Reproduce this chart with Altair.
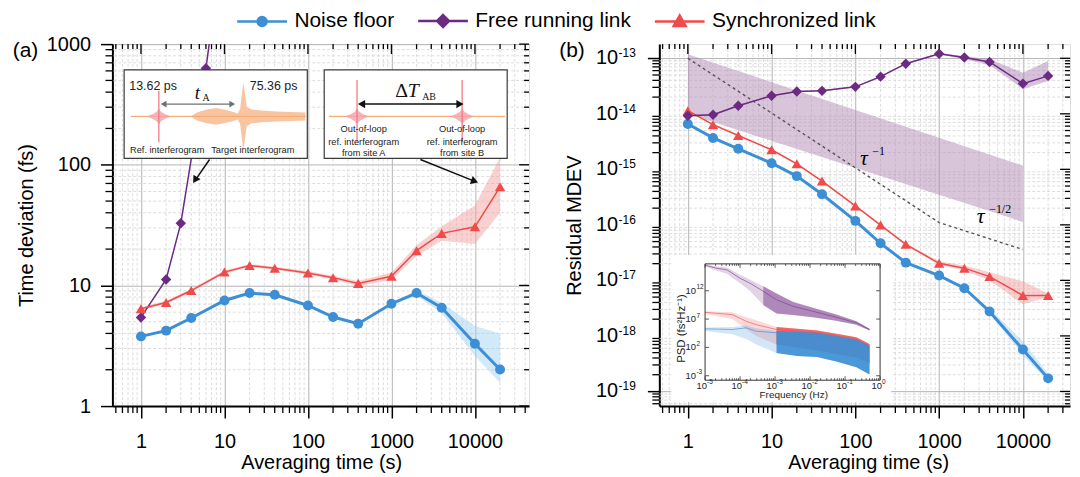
import altair as alt
import pandas as pd

FONT = "Liberation Sans"
SERIF = "Liberation Serif"
BLACK = "#000000"
GRID_MAJ = "#b4b4b4"
GRID_MIN = "#d4d4d4"

SERIES = ["Noise floor", "Free running link", "Synchronized link"]
COLORS = ["#3c8fd5", "#6c2a83", "#f04b4b"]
BANDS = ["#9ccff3", "#a57bb0", "#f39a9a"]

TAU = [1, 2, 4, 10, 20, 40, 100, 200, 400, 1000, 2000, 4000, 10000, 20000]
X_MAJOR = [1, 10, 100, 1000, 10000]
YA_MAJOR = [1, 10, 100, 1000]
YB_MAJOR = [1e-19, 1e-18, 1e-17, 1e-16, 1e-15, 1e-14, 1e-13]
YB_EXP = ["-19", "-18", "-17", "-16", "-15", "-14", "-13"]

# ---------------- panel (a): time deviation (fs) ----------------
A_NOISE = [3.78, 4.22, 5.37, 7.5, 8.64, 8.36, 6.82, 5.47, 4.82, 7.05, 8.64, 6.53, 3.28, 2.01]
A_NOISE_LO = [3.7, 4.13, 5.26, 7.35, 8.47, 8.19, 6.68, 5.36, 4.72, 6.9, 8.2, 5.9, 2.6, 1.56]
A_NOISE_HI = [3.86, 4.31, 5.48, 7.65, 8.81, 8.53, 6.96, 5.58, 4.92, 7.2, 9.1, 7.2, 4.6, 4.0]
A_SYNC = [6.41, 7.22, 9.07, 12.9, 14.6, 13.9, 12.7, 11.6, 10.4, 11.9, 19.4, 27.0, 30.6, 65.6]
A_SYNC_LO = [6.2, 7.0, 8.8, 12.5, 14.2, 13.5, 12.3, 11.2, 9.9, 11.1, 17.5, 23.5, 22.0, 40.0]
A_SYNC_HI = [6.6, 7.45, 9.35, 13.3, 15.0, 14.3, 13.1, 12.0, 10.9, 12.8, 21.5, 31.0, 46.0, 115.0]
A_FREE_TAU = [1, 2, 3, 6, 10]
A_FREE = [5.43, 11.2, 32.7, 630, 8800]

# ---------------- panel (b): residual MDEV ----------------
B_NOISE = [6.56e-15, 3.68e-15, 2.34e-15, 1.29e-15, 7.55e-16, 3.55e-16, 1.18e-16, 4.65e-17, 2.09e-17, 1.22e-17, 7.24e-18, 2.76e-18, 5.69e-19, 1.72e-19]
B_NOISE_LO = [6.36e-15, 3.57e-15, 2.27e-15, 1.25e-15, 7.32e-16, 3.44e-16, 1.14e-16, 4.5e-17, 2.02e-17, 1.18e-17, 6.9e-18, 2.5e-18, 4.5e-19, 1.5e-19]
B_NOISE_HI = [6.76e-15, 3.79e-15, 2.41e-15, 1.33e-15, 7.78e-16, 3.66e-16, 1.22e-16, 4.8e-17, 2.16e-17, 1.26e-17, 7.7e-18, 3.1e-18, 8.0e-19, 2.1e-19]
B_SYNC = [1.14e-14, 6.38e-15, 4.06e-15, 2.25e-15, 1.26e-15, 6.15e-16, 2.19e-16, 9.9e-17, 4.46e-17, 2.03e-17, 1.66e-17, 1.17e-17, 5.35e-18, 5.35e-18]
B_SYNC_LO = [1.1e-14, 6.19e-15, 3.94e-15, 2.18e-15, 1.22e-15, 5.97e-16, 2.12e-16, 9.6e-17, 4.3e-17, 1.9e-17, 1.5e-17, 1.0e-17, 3.7e-18, 5.0e-18]
B_SYNC_HI = [1.18e-14, 6.57e-15, 4.18e-15, 2.32e-15, 1.3e-15, 6.33e-16, 2.26e-16, 1.02e-16, 4.6e-17, 2.2e-17, 1.85e-17, 1.4e-17, 9.6e-18, 5.8e-18]
B_FREE = [9.25e-15, 9.64e-15, 1.4e-14, 2.11e-14, 2.52e-14, 2.59e-14, 3.06e-14, 4.67e-14, 8.0e-14, 1.21e-13, 1.03e-13, 8.58e-14, 3.5e-14, 4.82e-14]
B_FREE_LO = [8.97e-15, 9.35e-15, 1.36e-14, 2.05e-14, 2.44e-14, 2.51e-14, 2.97e-14, 4.53e-14, 7.76e-14, 1.17e-13, 9.6e-14, 7.6e-14, 2.8e-14, 3.9e-14]
B_FREE_HI = [9.53e-15, 9.93e-15, 1.44e-14, 2.17e-14, 2.6e-14, 2.67e-14, 3.15e-14, 4.81e-14, 8.24e-14, 1.25e-13, 1.1e-13, 9.6e-14, 5.5e-14, 8.9e-14]
ENV_TAU = [1, 10000]
ENV_LO = [1.0e-14, 1.13e-16]
ENV_HI = [1.18e-13, 1.17e-15]
GUIDE_TAU = [1, 1000, 10000]
GUIDE = [1e-13, 1.1e-16, 3.6e-17]

# PSD inset (log10 of fs^2/Hz)
PSD_F_FREE = [1e-5, 2e-5, 4.2e-5, 1e-4, 1.9e-4, 4.6e-4, 1.1e-3, 3.3e-3, 1.2e-2, 5.6e-2, 2.1e-1, 5e-1]
PSD_FREE = [16.5, 16.0, 15.7, 14.2, 13.35, 11.9, 10.4, 9.25, 8.37, 7.32, 6.33, 5.16]
PSD_FREE_LO = [16.3, 15.6, 15.0, 13.3, 12.0, 9.5, 8.0, 7.7, 7.3, 6.7, 6.0, 5.0]
PSD_FREE_HI = [16.7, 16.3, 16.1, 14.8, 14.0, 12.8, 11.5, 10.0, 9.0, 7.8, 6.6, 5.3]
PSD_F = [1e-5, 6e-5, 1.5e-4, 2.9e-4, 1.1e-3, 4.3e-3, 1.6e-2, 5.6e-2, 2.1e-1, 5e-1]
PSD_SYNC = [8.19, 7.79, 6.6, 6.0, 5.16, 4.86, 4.58, 3.98, 3.4, 2.23]
PSD_SYNC_LO = [7.9, 7.0, 5.2, 4.0, 2.5, 2.0, 1.5, 0.8, 0.2, -0.8]
PSD_SYNC_HI = [8.4, 8.2, 7.3, 6.8, 5.6, 5.3, 5.0, 4.4, 3.8, 2.6]
PSD_NOISE = [5.28, 5.16, 5.45, 4.86, 4.58, 4.3, 3.98, 3.4, 2.9, 1.65]
PSD_NOISE_LO = [4.9, 4.3, 3.5, 2.5, 1.0, 0.5, 0.3, -0.5, -1.5, -2.8]
PSD_NOISE_HI = [5.5, 5.6, 5.9, 5.4, 4.9, 4.7, 4.6, 4.0, 3.4, 2.3]
PSD_X_MAJOR = [1e-5, 1e-4, 1e-3, 1e-2, 1e-1, 1.0]
PSD_X_EXP = ["-5", "-4", "-3", "-2", "-1", "0"]
PSD_Y_MAJOR = [1e-3, 1e2, 1e7, 1e12]
PSD_Y_EXP = ["-3", "2", "7", "12"]

# ---------------- layout ----------------
W_A, W_B, H = 419, 413, 364
XDOM_A = [0.455, 44500]
XDOM_B = [0.457, 36500]
YDOM_A = [1, 1000]
YDOM_B = [5.45e-20, 1.8e-13]


def minor_ticks(lo, hi):
    out = []
    for e in range(-25, 8):
        for m in range(2, 10):
            v = float(f"{m}e{e}")
            if lo <= v <= hi:
                out.append(v)
    return out


def x_axis():
    return alt.Axis(values=X_MAJOR, format="d", title="Averaging time (s)", grid=True,
                    gridColor=GRID_MAJ, gridWidth=1, tickSize=12, tickWidth=1.5, tickColor=BLACK,
                    domainColor=BLACK, domainWidth=2, labelFont=FONT, labelFontSize=20,
                    labelColor=BLACK, labelPadding=14, labelFlush=False, labelOverlap=False,
                    titleFont=FONT, titleFontSize=20, titleFontWeight="normal", titleColor=BLACK,
                    titleX=210, titleY=57, titleBaseline="middle", titleAlign="center")


def y_axis(values, title, labels, tx):
    return alt.Axis(values=values, format="d", title=title, grid=True, labels=labels,
                    gridColor=GRID_MAJ, gridWidth=1, tickSize=12, tickWidth=1.5, tickColor=BLACK,
                    domainColor=BLACK, domainWidth=2, labelFont=FONT, labelFontSize=20,
                    labelColor=BLACK, labelPadding=10, labelFlush=False, labelOverlap=False,
                    titleFont=FONT, titleFontSize=20, titleFontWeight="normal", titleColor=BLACK,
                    titleX=tx, titleY=H / 2, titleAngle=270, titleBaseline="middle",
                    titleAlign="center")


def make_enc(xdom, ydom, yvals, ytitle, ylabels, tx):
    def X(f):
        return alt.X(f, type="quantitative",
                     scale=alt.Scale(type="log", domain=xdom, nice=False), axis=x_axis())

    def Y(f):
        return alt.Y(f, type="quantitative",
                     scale=alt.Scale(type="log", domain=ydom, nice=False),
                     axis=y_axis(yvals, ytitle, ylabels, tx))
    return X, Y


def frame_layers(X, Y, W, xdom, ydom, ymajor):
    xm = pd.DataFrame({"v": minor_ticks(*xdom)})
    ym = pd.DataFrame({"v": minor_ticks(*ydom)})
    xM = pd.DataFrame({"v": X_MAJOR})
    yM = pd.DataFrame({"v": ymajor})
    tk = dict(color=BLACK, strokeWidth=1.3)
    return [
        alt.Chart(xm).mark_rule(color=GRID_MIN, strokeDash=[3, 2], strokeWidth=0.8).encode(x=X("v")),
        alt.Chart(ym).mark_rule(color=GRID_MIN, strokeDash=[3, 2], strokeWidth=0.8).encode(y=Y("v")),
        alt.Chart(xm).mark_rule(**tk).encode(x=X("v"), y=alt.value(H), y2=alt.value(H + 7)),
        alt.Chart(xm).mark_rule(**tk).encode(x=X("v"), y=alt.value(0), y2=alt.value(5)),
        alt.Chart(xM).mark_rule(**tk).encode(x=X("v"), y=alt.value(0), y2=alt.value(10)),
        alt.Chart(ym).mark_rule(**tk).encode(y=Y("v"), x=alt.value(0), x2=alt.value(-7)),
        alt.Chart(ym).mark_rule(**tk).encode(y=Y("v"), x=alt.value(W), x2=alt.value(W - 5)),
        alt.Chart(yM).mark_rule(**tk).encode(y=Y("v"), x=alt.value(W), x2=alt.value(W - 10)),
    ]


def band(X, Y, df, color, opacity):
    return alt.Chart(df).mark_area(color=color, opacity=opacity, clip=True).encode(
        x=X("tau"), y=Y("lo"), y2="hi")


def series(X, Y, df, color, shape, lw, size):
    return [
        alt.Chart(df).mark_line(color=color, strokeWidth=lw, clip=True).encode(x=X("tau"), y=Y("v")),
        alt.Chart(df).mark_point(shape=shape, filled=True, size=size, color=color, opacity=1,
                                 clip=True).encode(x=X("tau"), y=Y("v")),
    ]


def label(text, x, y, size=20, **kw):
    return alt.Chart(pd.DataFrame({"t": [text]})).mark_text(
        font=kw.pop("font", FONT), fontSize=size, color=kw.pop("color", BLACK),
        align=kw.pop("align", "left"), baseline="middle", **kw).encode(
        x=alt.value(x), y=alt.value(y), text="t:N")


# ====================== PANEL (a) ======================
XA, YA = make_enc(XDOM_A, YDOM_A, YA_MAJOR, "Time deviation (fs)", True, -86.4)
dfa_n = pd.DataFrame({"tau": TAU, "v": A_NOISE, "lo": A_NOISE_LO, "hi": A_NOISE_HI})
dfa_s = pd.DataFrame({"tau": TAU, "v": A_SYNC, "lo": A_SYNC_LO, "hi": A_SYNC_HI})
dfa_f = pd.DataFrame({"tau": A_FREE_TAU, "v": A_FREE})

PATHS = [
    "M-1,0H4M1.95,0A0.45,0.45,0,1,1,1.05,0A0.45,0.45,0,1,1,1.95,0Z",
    "M-1,0H4M1.5,-0.6L2.1,0L1.5,0.6L0.9,0Z",
    "M-1,0H4M1.5,-0.6L2.1,0.45L0.9,0.45Z",
]
LEG = alt.Legend(title=None, orient="none", legendX=124, legendY=-35, direction="horizontal",
                 columns=3, labelFont=FONT, labelFontSize=21, labelColor=BLACK, labelOffset=36,
                 columnPadding=18, symbolSize=400, symbolStrokeWidth=2.5, symbolOpacity=1,
                 labelLimit=400)
leg_df = pd.DataFrame({"series": SERIES, "tau": [1e-6] * 3, "v": [2, 2, 2]})
legend_layer = alt.Chart(leg_df).mark_point(filled=True, opacity=1, clip=True).encode(
    x=XA("tau"), y=YA("v"),
    color=alt.Color("series:N", scale=alt.Scale(domain=SERIES, range=COLORS), legend=LEG),
    stroke=alt.Stroke("series:N", scale=alt.Scale(domain=SERIES, range=COLORS), legend=LEG),
    shape=alt.Shape("series:N", scale=alt.Scale(domain=SERIES, range=PATHS), legend=LEG),
)

main_a = alt.layer(
    *frame_layers(XA, YA, W_A, XDOM_A, YDOM_A, YA_MAJOR),
    band(XA, YA, dfa_n, BANDS[0], 0.45),
    band(XA, YA, dfa_s, BANDS[2], 0.45),
    *series(XA, YA, dfa_f, COLORS[1], "diamond", 1.5, 110),
    *series(XA, YA, dfa_n, COLORS[0], "circle", 3, 100),
    *series(XA, YA, dfa_s, COLORS[2], "triangle-up", 1.5, 110),
    legend_layer,
    label("(a)", -100.3, 7, 21),
)

# ---- inset illustrations of panel (a), in a local frame of the plot ----
ORANGE = "#f6ae78"
ORANGE_FILL = "#f9c29c"
PINK = "#f07a86"
PINK_FILL = "#f4a3aa"


def ovx(f):
    return alt.X(f, type="quantitative",
                 scale=alt.Scale(domain=[0, W_A], range=[0, W_A], nice=False, zero=False), axis=None)


def ovy(f):
    return alt.Y(f, type="quantitative",
                 scale=alt.Scale(domain=[0, H], range=[0, H], nice=False, zero=False), axis=None)


BOX = pd.DataFrame({"x0": [11.8, 213.0], "x1": [196.0, 397.0], "y0": [26, 26], "y1": [115, 115]})
BASE = pd.DataFrame({"x0": [18.4, 217.7], "x1": [194.4, 395.0], "y": [72.7, 72.7]})
SPIKE = pd.DataFrame({"x": [46.7, 246.0, 351.7], "y0": [47, 36, 36], "y1": [98.7, 98.7, 98.7]})
BLOB_DX = [-11, -6, -2, 0, 2, 6, 11]
BLOB_HH = [0.5, 2.5, 5, 8, 5, 2.5, 0.5]
blob_rows = []
for gi, sx in enumerate(SPIKE["x"]):
    for dx, hh in zip(BLOB_DX, BLOB_HH):
        blob_rows.append({"g": gi, "x": sx + dx, "ya": 72.7 - hh, "yb": 72.7 + hh})
BLOB = pd.DataFrame(blob_rows)
TGT_X = [79.4, 85, 95, 104, 112, 120, 126, 128.5, 130.5, 131.7, 133, 135, 140, 150, 165, 180, 194]
TGT_HH = [0.5, 4, 7, 8.5, 7, 5, 3, 8, 25, 34, 25, 10, 7, 6, 5, 4.5, 4]
TGT = pd.DataFrame({"x": TGT_X, "ya": [72.7 - h for h in TGT_HH], "yb": [72.7 + h for h in TGT_HH]})
ARR_GRAY = pd.DataFrame({"x0": [52], "x1": [120], "y0": [60.3], "y1": [60.3]})
ARR_BLACK = pd.DataFrame({"x0": [251, 97.7, 309.7], "x1": [349, 83.5, 364.5],
                          "y0": [60.3, 116, 116], "y1": [60.3, 136.5, 138]})
HEAD_GRAY = pd.DataFrame({"x": [51.5, 120.5], "y": [60.3, 60.3], "a": [270, 90]})
HEAD_BLACK = pd.DataFrame({"x": [250.5, 349.5, 83.1, 364.3], "y": [60.3, 60.3, 136.7, 137.9],
                           "a": [270, 90, 213, 110]})
TXT_PS_L = pd.DataFrame({"x": [17], "y": [42], "t": ["13.62 ps"]})
TXT_PS_R = pd.DataFrame({"x": [186], "y": [42], "t": ["75.36 ps"]})
TXT_SMALL = pd.DataFrame({"x": [17.7, 99.4], "y": [106.3, 106.3],
                          "t": ["Ref. interferogram", "Target interferogram"]})
TXT_SITE = pd.DataFrame({
    "x": [252.7] * 3 + [351.7] * 3,
    "y": [85.3, 98, 109.3] * 2,
    "t": ["Out-of-loop", "ref. interferogram", "from site A",
          "Out-of-loop", "ref. interferogram", "from site B"]})


def ov_text(df, **kw):
    return alt.Chart(df).mark_text(baseline="middle", **kw).encode(x=ovx("x"), y=ovy("y"), text="t:N")


def one(x, y, t):
    return pd.DataFrame({"x": [x], "y": [y], "t": [t]})


overlay_a = alt.layer(
    alt.Chart(BOX).mark_rect(fill="white", stroke="#3a3a3a", strokeWidth=1.2).encode(
        x=ovx("x0"), x2="x1", y=ovy("y0"), y2="y1"),
    alt.Chart(TGT).mark_area(color=ORANGE_FILL, opacity=0.95).encode(x=ovx("x"), y=ovy("ya"), y2="yb"),
    alt.Chart(BASE).mark_rule(color=ORANGE, strokeWidth=1.4).encode(x=ovx("x0"), x2="x1", y=ovy("y")),
    alt.Chart(BLOB).mark_area(color=PINK_FILL, opacity=0.8).encode(
        x=ovx("x"), y=ovy("ya"), y2="yb", detail="g:N"),
    alt.Chart(SPIKE).mark_rule(color=PINK, strokeWidth=1.3).encode(x=ovx("x"), y=ovy("y0"), y2="y1"),
    alt.Chart(ARR_GRAY).mark_rule(color="#707070", strokeWidth=1.3).encode(
        x=ovx("x0"), x2="x1", y=ovy("y0"), y2="y1"),
    alt.Chart(ARR_BLACK).mark_rule(color="#111111", strokeWidth=1.5).encode(
        x=ovx("x0"), x2="x1", y=ovy("y0"), y2="y1"),
    alt.Chart(HEAD_GRAY).mark_point(shape="triangle-up", filled=True, opacity=1, size=45,
                                    color="#707070").encode(
        x=ovx("x"), y=ovy("y"), angle=alt.Angle("a:Q", scale=None)),
    alt.Chart(HEAD_BLACK).mark_point(shape="triangle-up", filled=True, opacity=1, size=70,
                                     color="#111111").encode(
        x=ovx("x"), y=ovy("y"), angle=alt.Angle("a:Q", scale=None)),
    ov_text(TXT_PS_L, font=FONT, fontSize=12.5, color="#222222", align="left"),
    ov_text(TXT_PS_R, font=FONT, fontSize=12.5, color="#222222", align="right"),
    ov_text(TXT_SMALL, font=FONT, fontSize=9.3, color="#222222", align="left"),
    ov_text(TXT_SITE, font=FONT, fontSize=9.3, color="#222222", align="center"),
    ov_text(one(82.7, 49.5, "t"), font=SERIF, fontStyle="italic", fontSize=19, color="#111111",
            align="left"),
    ov_text(one(90.5, 54.5, "A"), font=SERIF, fontSize=10, color="#111111", align="left"),
    ov_text(one(284.4, 47, "Δ"), font=SERIF, fontSize=20, color="#111111", align="left"),
    ov_text(one(297.0, 47, "T"), font=SERIF, fontStyle="italic", fontSize=20, color="#111111",
            align="left"),
    ov_text(one(311.5, 53.7, "AB"), font=SERIF, fontSize=10, color="#111111", align="left"),
)

panel_a = alt.layer(main_a, overlay_a).resolve_scale(x="independent", y="independent").properties(
    width=W_A, height=H)

# ====================== PANEL (b) ======================
XB, YB = make_enc(XDOM_B, YDOM_B, YB_MAJOR, "Residual MDEV", False, -85.4)
dfb_n = pd.DataFrame({"tau": TAU, "v": B_NOISE, "lo": B_NOISE_LO, "hi": B_NOISE_HI})
dfb_s = pd.DataFrame({"tau": TAU, "v": B_SYNC, "lo": B_SYNC_LO, "hi": B_SYNC_HI})
dfb_f = pd.DataFrame({"tau": TAU, "v": B_FREE, "lo": B_FREE_LO, "hi": B_FREE_HI})
df_env = pd.DataFrame({"tau": ENV_TAU, "lo": ENV_LO, "hi": ENV_HI})
df_guide = pd.DataFrame({"tau": GUIDE_TAU, "v": GUIDE})
df_ylab = pd.DataFrame({"v": YB_MAJOR, "e": YB_EXP})
df_tau = pd.DataFrame({"tau": [113.6, 2812], "v": [1.6e-15, 1.43e-16], "t": ["τ", "τ"]})
df_tau_e = pd.DataFrame({"tau": [159, 3958], "v": [2.18e-15, 1.91e-16], "t": ["−1", "−1/2"]})

main_b = alt.layer(
    *frame_layers(XB, YB, W_B, XDOM_B, YDOM_B, YB_MAJOR),
    alt.Chart(df_env).mark_area(color="#b48cb4", opacity=0.5).encode(x=XB("tau"), y=YB("lo"), y2="hi"),
    alt.Chart(df_guide).mark_line(color="#555555", strokeDash=[3, 3], strokeWidth=1.4).encode(
        x=XB("tau"), y=YB("v")),
    band(XB, YB, dfb_n, BANDS[0], 0.45),
    band(XB, YB, dfb_s, BANDS[2], 0.45),
    band(XB, YB, dfb_f, BANDS[1], 0.45),
    *series(XB, YB, dfb_n, COLORS[0], "circle", 3, 100),
    *series(XB, YB, dfb_s, COLORS[2], "triangle-up", 1.5, 110),
    *series(XB, YB, dfb_f, COLORS[1], "diamond", 1.5, 110),
    alt.Chart(df_tau).mark_text(font=SERIF, fontStyle="italic", fontSize=22, align="left",
                                baseline="middle", color=BLACK).encode(
        x=XB("tau"), y=YB("v"), text="t:N"),
    alt.Chart(df_tau_e).mark_text(font=SERIF, fontSize=12, align="left", baseline="middle",
                                  color=BLACK).encode(x=XB("tau"), y=YB("v"), text="t:N"),
    alt.Chart(df_ylab).mark_text(font=FONT, fontSize=20, align="right", baseline="middle",
                                 color=BLACK).encode(x=alt.value(-41.5), y=YB("v"), text=alt.value("10")),
    alt.Chart(df_ylab).mark_text(font=FONT, fontSize=12, align="left", baseline="middle", dy=-5,
                                 color=BLACK).encode(x=alt.value(-41), y=YB("v"), text="e:N"),
    label("(b)", -100.7, 7, 21),
)


# ---- PSD inset ----
def psx(f):
    return alt.X(f, type="quantitative",
                 scale=alt.Scale(type="log", domain=[1e-5, 1], range=[46, 222], nice=False), axis=None)


def psy(f):
    return alt.Y(f, type="quantitative",
                 scale=alt.Scale(type="log", domain=[10 ** -3.79, 10 ** 16.74], range=[338, 221],
                                 nice=False), axis=None)


def psd_df(f, mid, lo, hi):
    return pd.DataFrame({"f": f, "m": [10 ** v for v in mid], "lo": [10 ** v for v in lo],
                         "hi": [10 ** v for v in hi]})


ps_free = psd_df(PSD_F_FREE, PSD_FREE, PSD_FREE_LO, PSD_FREE_HI)
ps_sync = psd_df(PSD_F, PSD_SYNC, PSD_SYNC_LO, PSD_SYNC_HI)
ps_noise = psd_df(PSD_F, PSD_NOISE, PSD_NOISE_LO, PSD_NOISE_HI)


def psd_layers(df, color, dense_from, op_dense):
    return [
        alt.Chart(df).mark_area(color=color, opacity=0.22).encode(x=psx("f"), y=psy("lo"), y2="hi"),
        alt.Chart(df).transform_filter(alt.datum.f >= dense_from).mark_area(
            color=color, opacity=op_dense).encode(x=psx("f"), y=psy("lo"), y2="hi"),
        alt.Chart(df).mark_line(color=color, strokeWidth=0.8, opacity=0.8).encode(x=psx("f"), y=psy("m")),
    ]


psx_minor = pd.DataFrame({"v": minor_ticks(1e-5, 1)})
psx_major = pd.DataFrame({"v": PSD_X_MAJOR, "e": PSD_X_EXP})
psy_major = pd.DataFrame({"v": PSD_Y_MAJOR, "e": PSD_Y_EXP})
corner = pd.DataFrame({"f0": [1e-5], "f1": [1.0], "p0": [10 ** -3.79], "p1": [10 ** 16.74]})
tk2 = dict(color="#333333", strokeWidth=0.8)

overlay_b = alt.layer(
    alt.Chart(pd.DataFrame({"a": [0]})).mark_rect(color="white").encode(
        x=alt.value(12), x2=alt.value(233), y=alt.value(212), y2=alt.value(360)),
    *psd_layers(ps_free, "#7b3b8e", 3e-4, 0.5),
    *psd_layers(ps_sync, "#f05050", 1e-3, 0.85),
    *psd_layers(ps_noise, "#3c8fd5", 1e-3, 0.9),
    alt.Chart(corner).mark_rect(fillOpacity=0, stroke="#333333", strokeWidth=1).encode(
        x=psx("f0"), x2="f1", y=psy("p0"), y2="p1"),
    alt.Chart(psx_minor).mark_rule(**tk2).encode(x=psx("v"), y=alt.value(338), y2=alt.value(336)),
    alt.Chart(psx_minor).mark_rule(**tk2).encode(x=psx("v"), y=alt.value(221), y2=alt.value(223)),
    alt.Chart(psx_major).mark_rule(**tk2).encode(x=psx("v"), y=alt.value(338), y2=alt.value(334)),
    alt.Chart(psx_major).mark_rule(**tk2).encode(x=psx("v"), y=alt.value(221), y2=alt.value(225)),
    alt.Chart(psy_major).mark_rule(**tk2).encode(y=psy("v"), x=alt.value(46), x2=alt.value(50)),
    alt.Chart(psy_major).mark_rule(**tk2).encode(y=psy("v"), x=alt.value(222), x2=alt.value(218)),
    alt.Chart(psx_major).mark_text(font=FONT, fontSize=9.5, align="right", baseline="middle", dx=2,
                                   color="#222222").encode(
        x=psx("v"), y=alt.value(343.7), text=alt.value("10")),
    alt.Chart(psx_major).mark_text(font=FONT, fontSize=6.5, align="left", baseline="middle", dx=2,
                                   color="#222222").encode(
        x=psx("v"), y=alt.value(340.3), text="e:N"),
    alt.Chart(psy_major).mark_text(font=FONT, fontSize=9.5, align="right", baseline="middle",
                                   color="#222222").encode(
        x=alt.value(37), y=psy("v"), text=alt.value("10")),
    alt.Chart(psy_major).mark_text(font=FONT, fontSize=6.5, align="left", baseline="middle", dy=-3.5,
                                   color="#222222").encode(
        x=alt.value(37.3), y=psy("v"), text="e:N"),
    label("Frequency (Hz)", 135.2, 352.7, 10, align="center", color="#222222"),
    label("PSD (fs²Hz⁻¹)", 22.7, 286, 11.5, align="center", angle=270, color="#222222"),
)

panel_b = alt.layer(main_b, overlay_b).resolve_scale(x="independent", y="independent").properties(
    width=W_B, height=H)

chart = alt.hconcat(panel_a, panel_b, spacing=27).properties(
    padding={"left": 4, "top": 0, "right": 0, "bottom": 0}
).configure_view(stroke=BLACK, strokeWidth=2).configure(font=FONT)

chart.save("out.html", embed_options={"renderer": "svg", "actions": False})
